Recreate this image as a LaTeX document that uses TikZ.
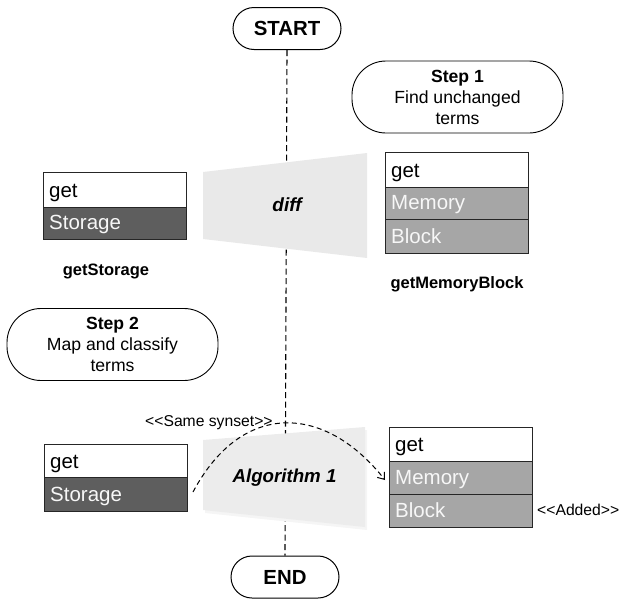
\documentclass[tikz,border=0pt]{standalone}
\usepackage{fontspec}
\newfontfamily\plainsans{Liberation Sans}
\usetikzlibrary{arrows.meta}

\definecolor{darkcell}{HTML}{5E5E5E}
\definecolor{midcell}{HTML}{A6A6A6}
\definecolor{trapfill}{HTML}{E9E9E9}
\definecolor{cellline}{HTML}{262626}
\definecolor{celltext}{HTML}{F7F7F7}

\begin{document}
\begin{tikzpicture}[x=1pt,y=-1pt,
  cell/.style={draw=cellline, line width=1.2pt, minimum width=143pt,
    anchor=north west, inner sep=0pt},
  celltxt/.style={anchor=base west, inner sep=0pt,
    font=\plainsans\fontsize{20.5}{24}\selectfont},
  pill/.style={draw=black, line width=1pt, rounded corners=21pt,
    minimum width=108pt, minimum height=42pt, inner sep=0pt,
    font=\plainsans\bfseries\fontsize{20.4}{24}\selectfont},
  bubble/.style={draw=black, line width=0.9pt, rounded corners=34pt,
    minimum width=211pt, minimum height=72pt, inner sep=0pt},
  bubtxt/.style={align=center, inner sep=0pt,
    font=\plainsans\fontsize{17.6}{21}\selectfont},
  namelbl/.style={anchor=base, inner sep=0pt,
    font=\plainsans\bfseries\fontsize{16.5}{20}\selectfont},
  smalllbl/.style={anchor=base west, inner sep=0pt,
    font=\plainsans\fontsize{15.7}{19}\selectfont},
  oplbl/.style={inner sep=0pt, font=\plainsans\bfseries\itshape\fontsize{19}{23}\selectfont},
  flow/.style={line width=1.1pt, dash pattern=on 6pt off 3.5pt}
]
\useasboundingbox (0,0) rectangle (619,600);

% start and end terminals
\node[pill] (start) at (287,28.5) {START};
\node[pill] (end) at (285,577) {END};

% dashed flow line (drawn first so the operators cover it)
\draw[flow] (start.south) -- (end.north);

% step annotations
\node[bubble] (step1) at (457.5,97) {};
\node[bubtxt] (step1t) at (step1.center) {\textbf{Step 1}\\Find unchanged\\terms};
\node[bubble] (step2) at (112.5,344.5) {};
\node[bubtxt] (step2t) at (step2.center) {\textbf{Step 2}\\Map and classify\\terms};

% diff operator
\fill[trapfill] (203,172) -- (367,153) -- (367,258) -- (203,239) -- cycle;
\node[oplbl] (diff) at (287,205) {diff};

% Algorithm 1 operator, with a faint shadow
\fill[black!4] (205,443) -- (367,430) -- (367,530) -- (205,513) -- cycle;
\fill[trapfill!85!white] (203,440) -- (365,427) -- (365,527) -- (203,510) -- cycle;
\node[oplbl, font=\plainsans\bfseries\itshape\fontsize{18.7}{22}\selectfont] (algo) at (284.5,478) {Algorithm 1};

% getStorage (top)
\node[cell, fill=white, minimum height=35pt] (ts1) at (43,172) {};
\node[cell, fill=darkcell, minimum height=32pt] (ts2) at (43,207) {};
\node[celltxt] (ts1t) at (49,197) {get};
\node[celltxt, text=celltext] (ts2t) at (49,229) {Storage};
\node[namelbl] (tsname) at (106,275) {getStorage};

% getMemoryBlock (top)
\node[cell, fill=white, minimum height=35pt] (tm1) at (385,152) {};
\node[cell, fill=midcell, minimum height=32pt] (tm2) at (385,187) {};
\node[cell, fill=midcell, minimum height=34pt] (tm3) at (385,219) {};
\node[celltxt] (tm1t) at (391,177) {get};
\node[celltxt, text=celltext] (tm2t) at (391,209) {Memory};
\node[celltxt, text=celltext] (tm3t) at (391,243) {Block};
\node[namelbl] (tmname) at (457,288) {getMemoryBlock};

% getStorage (bottom)
\node[cell, fill=white, minimum height=33pt] (bs1) at (44,444) {};
\node[cell, fill=darkcell, minimum height=34pt] (bs2) at (44,477) {};
\node[celltxt] (bs1t) at (50,468) {get};
\node[celltxt, text=celltext] (bs2t) at (50,501) {Storage};

% getMemoryBlock (bottom)
\node[cell, fill=white, minimum height=34pt] (bm1) at (389,427) {};
\node[cell, fill=midcell, minimum height=33pt] (bm2) at (389,461) {};
\node[cell, fill=midcell, minimum height=33pt] (bm3) at (389,494) {};
\node[celltxt] (bm1t) at (395,451) {get};
\node[celltxt, text=celltext] (bm2t) at (395,484) {Memory};
\node[celltxt, text=celltext] (bm3t) at (395,517) {Block};

% mapping between the two terms
\coordinate (mapfrom) at (193,492);
\coordinate (mapto) at (385,480);
\draw[line width=1pt, dash pattern=on 5pt off 3.5pt,
  -{Straight Barb[length=6pt,width=9pt]}]
  (mapfrom) .. controls (242,400) and (325,404) .. (mapto);

\node[smalllbl] (synset) at (145,426) {<<Same synset>>};
\node[smalllbl] (added) at (537,515) {<<Added>>};
\end{tikzpicture}
\end{document}
